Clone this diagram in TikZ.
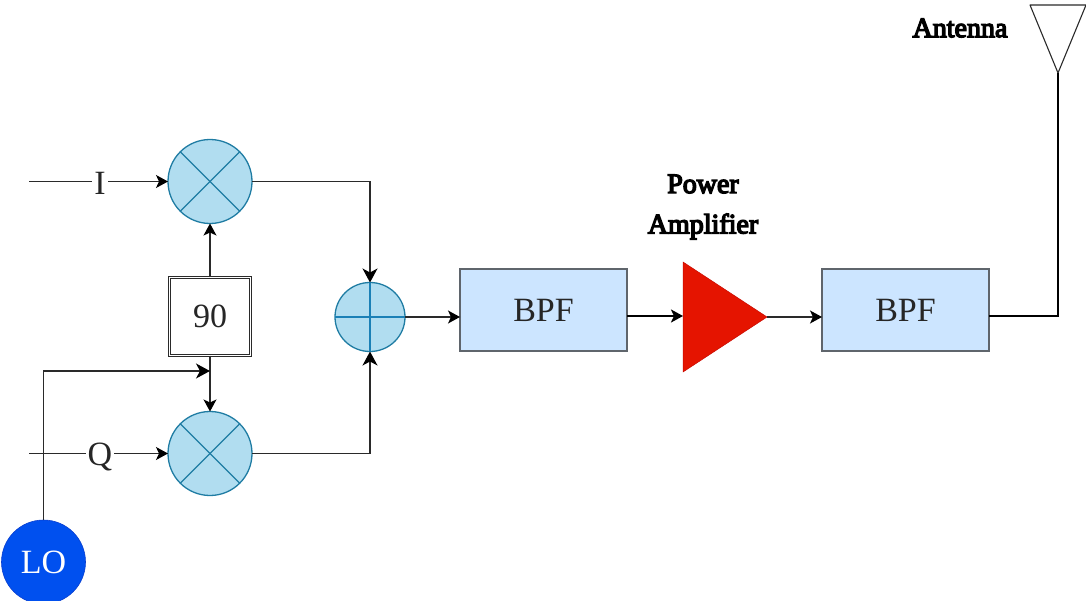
\documentclass[tikz,border=0pt]{standalone}
\usepackage{fontspec}
\setmainfont{Liberation Serif}
\newfontfamily\fakebold{Liberation Serif}[FakeBold=5]
\usetikzlibrary{arrows.meta,shapes.geometric}
\definecolor{mixfill}{HTML}{B1DDF0}
\definecolor{mixline}{HTML}{1F7CA3}
\definecolor{addmark}{HTML}{1A80B6}
\definecolor{bpffill}{HTML}{CCE5FF}
\definecolor{bpfline}{HTML}{5F656C}
\definecolor{lofill}{HTML}{0050EF}
\definecolor{loline}{HTML}{0A3FD0}
\definecolor{pafill}{HTML}{E51400}
\definecolor{paline}{HTML}{C80A00}
\definecolor{wire}{HTML}{2A2A2A}
\tikzset{
  x=1pt,y=-1pt,
  lbl/.style={font=\fontsize{34}{34}\selectfont,text=black!85,inner sep=0pt,outer sep=0pt},
  mixer/.style={circle,draw=mixline,fill=mixfill,line width=1.3pt,minimum size=84pt,inner sep=0pt,outer sep=0pt},
  adder/.style={ellipse,draw=mixline,fill=mixfill,line width=1.3pt,minimum width=70pt,minimum height=69pt,inner sep=0pt,outer sep=0pt},
  mark line/.style={draw=mixline,line width=1.1pt},
  add line/.style={draw=addmark,line width=1.1pt},
  bpf/.style={lbl,rectangle,draw=bpfline,fill=bpffill,line width=1.1pt,minimum width=167pt,minimum height=82pt},
  phasebox/.style={lbl,rectangle,draw=wire,fill=white,double,double distance=1.4pt,line width=0.9pt,minimum width=81pt,minimum height=78pt},
  lo/.style={circle,draw=loline,fill=lofill,line width=0.6pt,minimum size=84pt,inner sep=0pt,outer sep=0pt,font=\fontsize{34}{34}\selectfont,text=white},
  wirepath/.style={draw=wire,line width=1.2pt},
  heavy/.style={draw=black,line width=2.4pt},
  arrowed/.style={-{Stealth[length=12pt,width=13pt,inset=3pt,color=black]}},
  bigarrow/.style={-{Stealth[length=14pt,width=15pt,inset=4pt,color=black]}},
  caption/.style={font=\fontsize{#1}{#1}\selectfont\fakebold,text=black,inner sep=0pt},
  sig/.style={lbl,fill=white,inner xsep=2pt,inner ysep=0pt}
}
\begin{document}
\begin{tikzpicture}
\useasboundingbox (0,0) rectangle (1086,601);
% coordinates
\coordinate (iin) at (29,181.5);
\coordinate (qin) at (29,453.5);
\coordinate (lojoin) at (210,371);
\coordinate (patl) at (683,262);
\coordinate (pabl) at (683,372);
\coordinate (patip) at (767,317);
\coordinate (pain) at (683,316);
\coordinate (anttl) at (1030,5);
\coordinate (anttr) at (1086,5);
\coordinate (anttip) at (1058,73);
% nodes
\node[mixer] (m1) at (210,181.5) {};
\node[mixer] (m2) at (210,453.5) {};
\node[adder] (add) at (370,317) {};
\node[phasebox] (ph) at (210,316.5) {90};
\node[lo] (lo) at (43.5,562) {LO};
\node[bpf] (b1) at (543.5,310) {BPF};
\node[bpf] (b2) at (905.5,310) {BPF};
% mixer marks
\foreach \m in {m1,m2}{
  \draw[mark line] (\m.45) -- (\m.225);
  \draw[mark line] (\m.135) -- (\m.315);
}
\draw[add line] (add.north) -- (add.south);
\draw[add line] (add.west) -- (add.east);
% amplifier
\path[fill=pafill,draw=paline,line width=0.5pt,line join=miter] (patl) -- (patip) -- (pabl) -- cycle;
% antenna
\draw[wirepath,line width=1.1pt,line join=round] (anttl) -- (anttr) -- (anttip) -- cycle;
% connectors
\draw[wirepath,arrowed] (iin) -- (m1.west);
\draw[wirepath,arrowed] (qin) -- (m2.west);
\node[sig] (ilab) at (100,183.5) {I};
\node[sig] (qlab) at (100,457) {Q};
\draw[wirepath,arrowed] (ph.north) -- (m1.south);
\draw[wirepath,arrowed] (ph.south) -- (m2.north);
\draw[wirepath,bigarrow] (lo.north) |- (lojoin);
\draw[wirepath,bigarrow] (m1.east) -| (add.north);
\draw[wirepath,bigarrow] (m2.east) -| (add.south);
\draw[wirepath,arrowed] (add.east) -- (b1.west |- add.east);
\draw[heavy,arrowed] (b1.east |- pain) -- (pain);
\draw[wirepath,arrowed] (patip) -- (b2.west |- patip);
\draw[heavy,line join=miter] (b2.east |- pain) -| (anttip);
% captions
\node[caption=28] (power) at (703,184) {Power};
\node[caption=28] (ampl) at (703,226.5) {Amplifier};
\node[caption=28] (ant) at (960,28) {Antenna};
\end{tikzpicture}
\end{document}
